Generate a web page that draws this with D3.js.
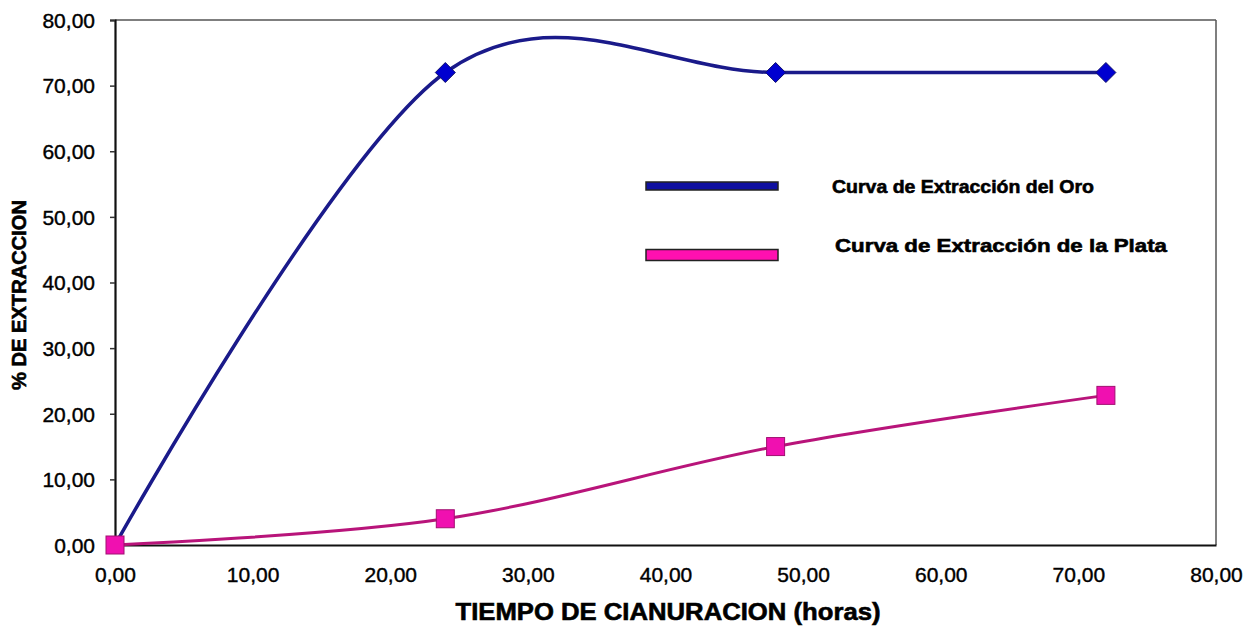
<!DOCTYPE html>
<html><head><meta charset="utf-8">
<script src="https://cdn.jsdelivr.net/npm/d3@7"></script>
<style>body{margin:0;background:#fff}svg{display:block;font-family:"Liberation Sans",Arial,sans-serif}</style>
</head><body><svg id="c" width="1251" height="630"></svg>
<script>
const hours = [0, 24, 48, 72];
const oro = [0, 72, 72, 72];
const plata = [0, 4.0, 15.0, 22.8];
const xTicks = [0,10,20,30,40,50,60,70,80];
const yTicks = [0,10,20,30,40,50,60,70,80];
const seriesNames = ["Curva de Extracción del Oro", "Curva de Extracción de la Plata"];
const xTitle = "TIEMPO DE CIANURACION (horas)";
const yTitle = "% DE EXTRACCION";

const svg = d3.select("#c");
const m = {l:115, r:1216, t:20, b:545};
const x = d3.scaleLinear().domain([0,80]).range([m.l, m.r]);
const y = d3.scaleLinear().domain([0,80]).range([m.b, m.t]);
const fmt = d => d3.format(".2f")(d).replace(".", ",");

// frame
svg.append("line").attr("x1",m.l).attr("x2",m.r).attr("y1",m.t).attr("y2",m.t).attr("stroke","#555").attr("stroke-width",1.5);
svg.append("line").attr("x1",m.r).attr("x2",m.r).attr("y1",m.t).attr("y2",m.b).attr("stroke","#555").attr("stroke-width",1.5);

const ya = svg.append("g").attr("transform",`translate(${m.l},0)`)
  .call(d3.axisLeft(y).tickValues(yTicks).tickFormat(fmt).tickSizeOuter(0).tickSize(5).tickPadding(15));
const xa = svg.append("g").attr("transform",`translate(0,${m.b})`)
  .call(d3.axisBottom(x).tickValues(xTicks).tickFormat(fmt).tickSizeOuter(0).tickSize(0).tickPadding(22));
[ya, xa].forEach(a => {
  a.select(".domain").attr("stroke","#111").attr("stroke-width",2.2);
  a.selectAll(".tick line").attr("stroke","#333").attr("stroke-width",1.5);
  a.selectAll("text").attr("font-size",21).attr("fill","#000").attr("stroke","#000").attr("stroke-width",0.4)
    .attr("font-family","'Liberation Sans',Arial,sans-serif");
});
ya.selectAll("text").attr("dy","0.35em");

// lines
const line = d3.line().x(d=>x(d[0])).y(d=>y(d[1])).curve(d3.curveCardinal.tension(0));
const oroPts = hours.map((h,i)=>[h,oro[i]]);
const plataPts = hours.map((h,i)=>[h,plata[i]]);

svg.append("path").datum(plataPts).attr("d",line).attr("fill","none").attr("stroke","#b8147a").attr("stroke-width",3);
svg.append("path").datum(oroPts).attr("d",line).attr("fill","none").attr("stroke","#1a1a8a").attr("stroke-width",3.5);

svg.selectAll(".sq").data(plataPts).join("rect")
  .attr("x",d=>x(d[0])-9).attr("y",d=>y(d[1])-9).attr("width",18).attr("height",18)
  .attr("fill","#f010b0").attr("stroke","#a01070").attr("stroke-width",1);
svg.selectAll(".dm").data(oroPts.slice(1)).join("path")
  .attr("transform",d=>`translate(${x(d[0])},${y(d[1])})`)
  .attr("d","M0,-10L10,0L0,10L-10,0Z")
  .attr("fill","#0000d0").attr("stroke","#10106a").attr("stroke-width",1);

// legend
const lg = [{c:"#1010a0", y:186, h:8}, {c:"#ff10b0", y:255, h:11}];
lg.forEach((d,i)=>{
  svg.append("rect").attr("x",646).attr("y",d.y-d.h/2).attr("width",132).attr("height",d.h)
    .attr("fill",d.c).attr("stroke","#222").attr("stroke-width",1.5);
});
const tstyle = s => s.attr("font-weight","bold").attr("fill","#000").attr("stroke","#000").attr("stroke-width",0.6).attr("lengthAdjust","spacingAndGlyphs");
svg.append("text").attr("x",832).attr("y",193).text(seriesNames[0])
  .attr("font-size",19).attr("textLength",262).call(tstyle);
svg.append("text").attr("x",835).attr("y",252).text(seriesNames[1])
  .attr("font-size",19).attr("textLength",332).call(tstyle);

// titles
svg.append("text").attr("x",668).attr("y",620).attr("text-anchor","middle").text(xTitle)
  .attr("font-size",24).attr("textLength",425).call(tstyle);
svg.append("text").attr("transform","translate(26,295) rotate(-90)").attr("text-anchor","middle").text(yTitle)
  .attr("font-size",20).attr("textLength",190).call(tstyle);
</script></body></html>
